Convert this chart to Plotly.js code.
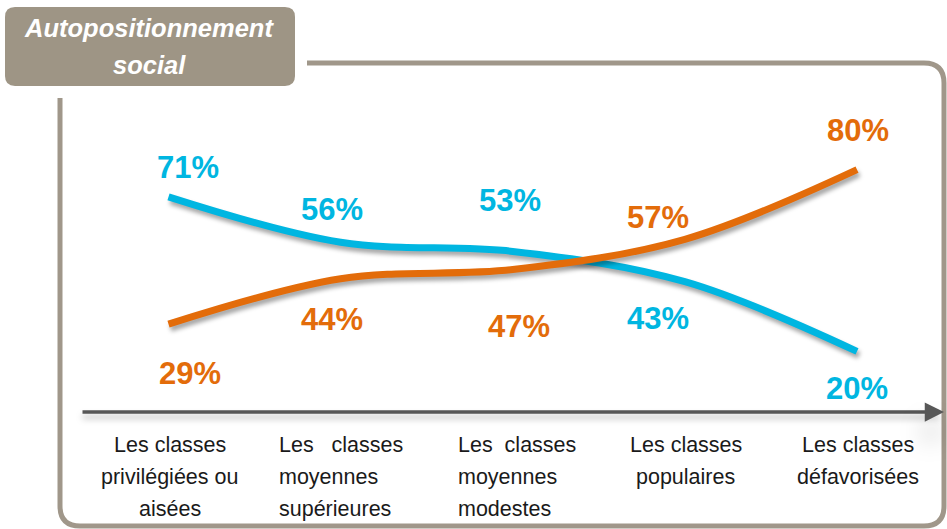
<!DOCTYPE html>
<html>
<head>
<meta charset="utf-8">
<script src="https://cdn.plot.ly/plotly-3.0.1.min.js"></script>
<style>
  html, body { margin: 0; padding: 0; background: #fff; }
  #chart { width: 947px; height: 529px; }
  .scatterlayer .js-line { filter: drop-shadow(2px 4px 2px rgba(0,0,0,0.35)); }
  .annotation-arrow-g path { filter: drop-shadow(0px 5px 3px rgba(0,0,0,0.25)); }
</style>
</head>
<body>
<div id="chart"></div>
<script>
// ---- data ----
const categories = [
  ["Les classes", "privilégiées ou", "aisées"],
  ["Les\u00a0\u00a0 classes", "moyennes", "supérieures"],
  ["Les\u00a0 classes", "moyennes", "modestes"],
  ["Les classes", "populaires"],
  ["Les classes", "défavorisées"]
];
const seriesCyan = [71, 56, 53, 43, 20];
const seriesOrange = [29, 44, 47, 57, 80];
const titleLines = ["Autopositionnement", "social"];

// ---- styling ----
const W = 947, H = 529;
const CYAN = "#00B6E1", ORANGE = "#E36C0A", FRAME = "#A0978A", TEXT = "#1a1a1a";
const px = x => x / W;
const py = y => 1 - y / H;
const xUnit = (857 - 168.5) / 4, yUnit = 3.03;
const xRange = [-168.5 / xUnit, 4 + (W - 857) / xUnit];
const yRange = [-(H - 412) / yUnit, (412) / yUnit];

function pathStr(cmds) {
  return cmds.map(c => {
    const [k, ...nums] = c;
    const out = [];
    for (let i = 0; i < nums.length; i += 2) out.push(px(nums[i]).toFixed(5) + "," + py(nums[i + 1]).toFixed(5));
    return k + " " + out.join(" ");
  }).join(" ");
}

const idx = categories.map((_, i) => i);

const traces = [
  { x: idx, y: seriesCyan, type: "scatter", mode: "lines",
    line: { color: CYAN, width: 7, shape: "spline", smoothing: 1 }, hoverinfo: "skip" },
  { x: idx, y: seriesOrange, type: "scatter", mode: "lines",
    line: { color: ORANGE, width: 7, shape: "spline", smoothing: 1 }, hoverinfo: "skip" }
];

const shapes = [
  { type: "path", xref: "paper", yref: "paper", layer: "below",
    path: pathStr([["M", 60, 98], ["L", 60, 506], ["Q", 60, 526, 80, 526], ["L", 924, 526],
                   ["Q", 944, 526, 944, 506], ["L", 944, 83], ["Q", 944, 63, 924, 63], ["L", 307, 63]]),
    line: { color: FRAME, width: 5 } },
  { type: "path", xref: "paper", yref: "paper", layer: "below",
    path: pathStr([["M", 15, 7], ["L", 285, 7], ["Q", 295, 7, 295, 17], ["L", 295, 76], ["Q", 295, 86, 285, 86],
                   ["L", 15, 86], ["Q", 5, 86, 5, 76], ["L", 5, 17], ["Q", 5, 7, 15, 7], ["Z"]]),
    fillcolor: "#9E9585", line: { width: 0 } }
];

const annotations = [];
const titleY = [28, 65];
titleLines.forEach((t, i) => annotations.push({
  xref: "paper", yref: "paper", x: px(149), y: py(titleY[i]), xanchor: "center", yanchor: "middle",
  text: t, showarrow: false,
  font: { family: "Liberation Sans, Arial, sans-serif", size: 25.5, color: "#ffffff", weight: "bold", style: "italic" }
}));
annotations.push({
  xref: "paper", yref: "paper", x: px(944), y: py(412), ax: -(944 - 81), ay: 0, axref: "pixel", ayref: "pixel",
  text: "", showarrow: true, arrowhead: 2, arrowsize: 1.1, arrowwidth: 3.5, arrowcolor: "#575757"
});
const cyanShift = [[19, 29], [-9, 33], [-3, 51], [-27, -37], [0, -37]];
const orangeShift = [[21, -49], [-9, -41], [6, -57], [-27, 22], [1, 39]];
const labFont = c => ({ family: "Liberation Sans, Arial, sans-serif", size: 31, color: c, weight: "bold" });
seriesCyan.forEach((v, i) => annotations.push({
  x: i, y: v, xref: "x", yref: "y", text: v + "%", showarrow: false,
  xshift: cyanShift[i][0], yshift: cyanShift[i][1], font: labFont(CYAN)
}));
seriesOrange.forEach((v, i) => annotations.push({
  x: i, y: v, xref: "x", yref: "y", text: v + "%", showarrow: false,
  xshift: orangeShift[i][0], yshift: orangeShift[i][1], font: labFont(ORANGE)
}));
const catAnchor = [["center", 0], ["left", 277], ["left", 456], ["center", 0], ["center", 0]];
const rowY = [445, 477, 509];
categories.forEach((lines, i) => {
  lines.forEach((t, r) => {
    const a = catAnchor[i];
    annotations.push({
      xref: a[0] === "left" ? "paper" : "x", yref: "paper",
      x: a[0] === "left" ? px(a[1]) : i, xshift: a[0] === "left" ? 0 : 1,
      y: py(rowY[r]), xanchor: a[0], yanchor: "middle",
      text: t, showarrow: false,
      font: { family: "Liberation Sans, Arial, sans-serif", size: 21.5, color: TEXT }
    });
  });
});

const layout = {
  width: W, height: H,
  margin: { l: 0, r: 0, t: 0, b: 0 },
  paper_bgcolor: "#ffffff", plot_bgcolor: "rgba(0,0,0,0)",
  showlegend: false,
  xaxis: { range: xRange, visible: false, fixedrange: true },
  yaxis: { range: yRange, visible: false, fixedrange: true },
  shapes: shapes,
  annotations: annotations
};

Plotly.newPlot("chart", traces, layout, { displayModeBar: false, staticPlot: true });
</script>
</body>
</html>
